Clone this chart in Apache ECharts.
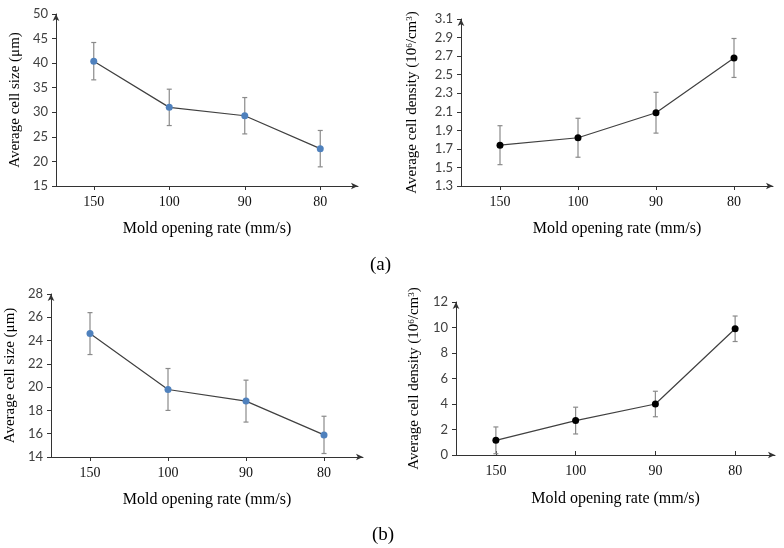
<!DOCTYPE html>
<html>
<head>
<meta charset="utf-8">
<script src="https://cdn.jsdelivr.net/npm/echarts@6/dist/echarts.min.js"></script>
<style>html,body{margin:0;padding:0;background:#fff;}#c{width:784px;height:548px;}</style>
</head>
<body>
<div id="c"></div>
<script>
// ---- data ----
var categories = ['150', '100', '90', '80'];

var sizeA = [40.4, 31.0, 29.3, 22.6];
var sizeAErr = [3.8, 3.7, 3.7, 3.7];
var densA = [1.74, 1.82, 2.09, 2.68];
var densAErr = [0.21, 0.21, 0.22, 0.21];

var sizeB = [24.6, 19.8, 18.8, 15.9];
var sizeBErr = [1.8, 1.8, 1.8, 1.6];
var densB = [1.15, 2.7, 4.0, 9.9];
var densBErr = [1.05, 1.05, 1.0, 1.0];

var ticksSizeA = [15, 20, 25, 30, 35, 40, 45, 50];
var ticksDensA = [1.3, 1.5, 1.7, 1.9, 2.1, 2.3, 2.5, 2.7, 2.9, 3.1];
var ticksSizeB = [14, 16, 18, 20, 22, 24, 26, 28];
var ticksDensB = [0, 2, 4, 6, 8, 10, 12];

var xName = 'Mold opening rate (mm/s)';
var sizeName = 'Average cell size (\u03bcm)';
var densName = 'Average cell density (10{sup|6}/cm{sup|3})';

// ---- styling ----
var SERIF = '"Liberation Serif", "Times New Roman", serif';
var SANS = 'Lato, "Open Sans", sans-serif';
var BLUE = '#4F81BD';

var grids = [
  {left: 56, top: 14, width: 302, height: 172},
  {left: 461, top: 19, width: 312, height: 167},
  {left: 51, top: 294, width: 312, height: 163},
  {left: 456, top: 302, width: 319, height: 153}
];

function xAxis(gi, inside, gap) {
  return {
    type: 'category', gridIndex: gi, data: categories, boundaryGap: true,
    name: xName, nameLocation: 'middle', nameGap: gap,
    nameTextStyle: {fontFamily: SERIF, fontSize: 16, color: '#000'},
    axisLine: {show: true, lineStyle: {color: '#333', width: 1}, symbol: ['none', 'arrow'], symbolSize: [5, 7]},
    axisTick: {show: true, alignWithLabel: true, inside: inside, length: 4, lineStyle: {color: '#333'}},
    axisLabel: {fontFamily: SERIF, fontSize: 14, color: '#111', margin: 9},
    splitLine: {show: false}
  };
}

function yAxis(gi, ticks, gap, name) {
  return {
    type: 'value', gridIndex: gi, min: ticks[0], max: ticks[ticks.length - 1],
    name: name, nameLocation: 'middle', nameGap: gap,
    nameTextStyle: {fontFamily: SERIF, fontSize: 15, color: '#000',
      rich: {sup: {fontFamily: SERIF, fontSize: 9, color: '#000', verticalAlign: 'top'}}},
    axisLine: {show: true, lineStyle: {color: '#333', width: 1}, symbol: ['none', 'arrow'], symbolSize: [5, 7]},
    axisTick: {show: true, length: 4, lineStyle: {color: '#333'}, customValues: ticks},
    axisLabel: {fontFamily: SANS, fontSize: 13, color: '#404040', margin: 8, customValues: ticks},
    splitLine: {show: false}
  };
}

function errSeries(gi, vals, errs) {
  return {
    type: 'custom', xAxisIndex: gi, yAxisIndex: gi, z: 2, silent: true,
    data: vals.map(function (v, i) { return [i, v, errs[i]]; }),
    renderItem: function (params, api) {
      var i = api.value(0), v = api.value(1), e = api.value(2);
      var hi = api.coord([i, v + e]);
      var lo = api.coord([i, v - e]);
      var w = 2.5;
      var st = {stroke: '#8a8a8a', lineWidth: 1.2};
      return {type: 'group', children: [
        {type: 'line', shape: {x1: hi[0], y1: hi[1], x2: lo[0], y2: lo[1]}, style: st},
        {type: 'line', shape: {x1: hi[0] - w, y1: hi[1], x2: hi[0] + w, y2: hi[1]}, style: st},
        {type: 'line', shape: {x1: lo[0] - w, y1: lo[1], x2: lo[0] + w, y2: lo[1]}, style: st}
      ]};
    }
  };
}

function lineSeries(gi, vals, color) {
  return {
    type: 'line', xAxisIndex: gi, yAxisIndex: gi, z: 3, data: vals,
    symbol: 'circle', symbolSize: 7, showAllSymbol: true,
    lineStyle: {color: '#404040', width: 1.2},
    itemStyle: {color: color, borderWidth: 0},
    emphasis: {disabled: true}
  };
}

var chart = echarts.init(document.getElementById('c'), null, {renderer: 'canvas'});
chart.setOption({
  animation: false,
  backgroundColor: '#fff',
  title: [
    {text: '(a)', left: 365, top: 251, textStyle: {fontFamily: SERIF, fontSize: 19, fontWeight: 'normal', color: '#000'}},
    {text: '(b)', left: 367, top: 521, textStyle: {fontFamily: SERIF, fontSize: 19, fontWeight: 'normal', color: '#000'}}
  ],
  grid: grids,
  xAxis: [xAxis(0, false, 35), xAxis(1, false, 35), xAxis(2, false, 35), xAxis(3, true, 36)],
  yAxis: [
    yAxis(0, ticksSizeA, 33, sizeName),
    yAxis(1, ticksDensA, 41, densName),
    yAxis(2, ticksSizeB, 33, sizeName),
    yAxis(3, ticksDensB, 34, densName)
  ],
  series: [
    errSeries(0, sizeA, sizeAErr), lineSeries(0, sizeA, BLUE),
    errSeries(1, densA, densAErr), lineSeries(1, densA, '#000'),
    errSeries(2, sizeB, sizeBErr), lineSeries(2, sizeB, BLUE),
    errSeries(3, densB, densBErr), lineSeries(3, densB, '#000')
  ]
});
</script>
</body>
</html>
